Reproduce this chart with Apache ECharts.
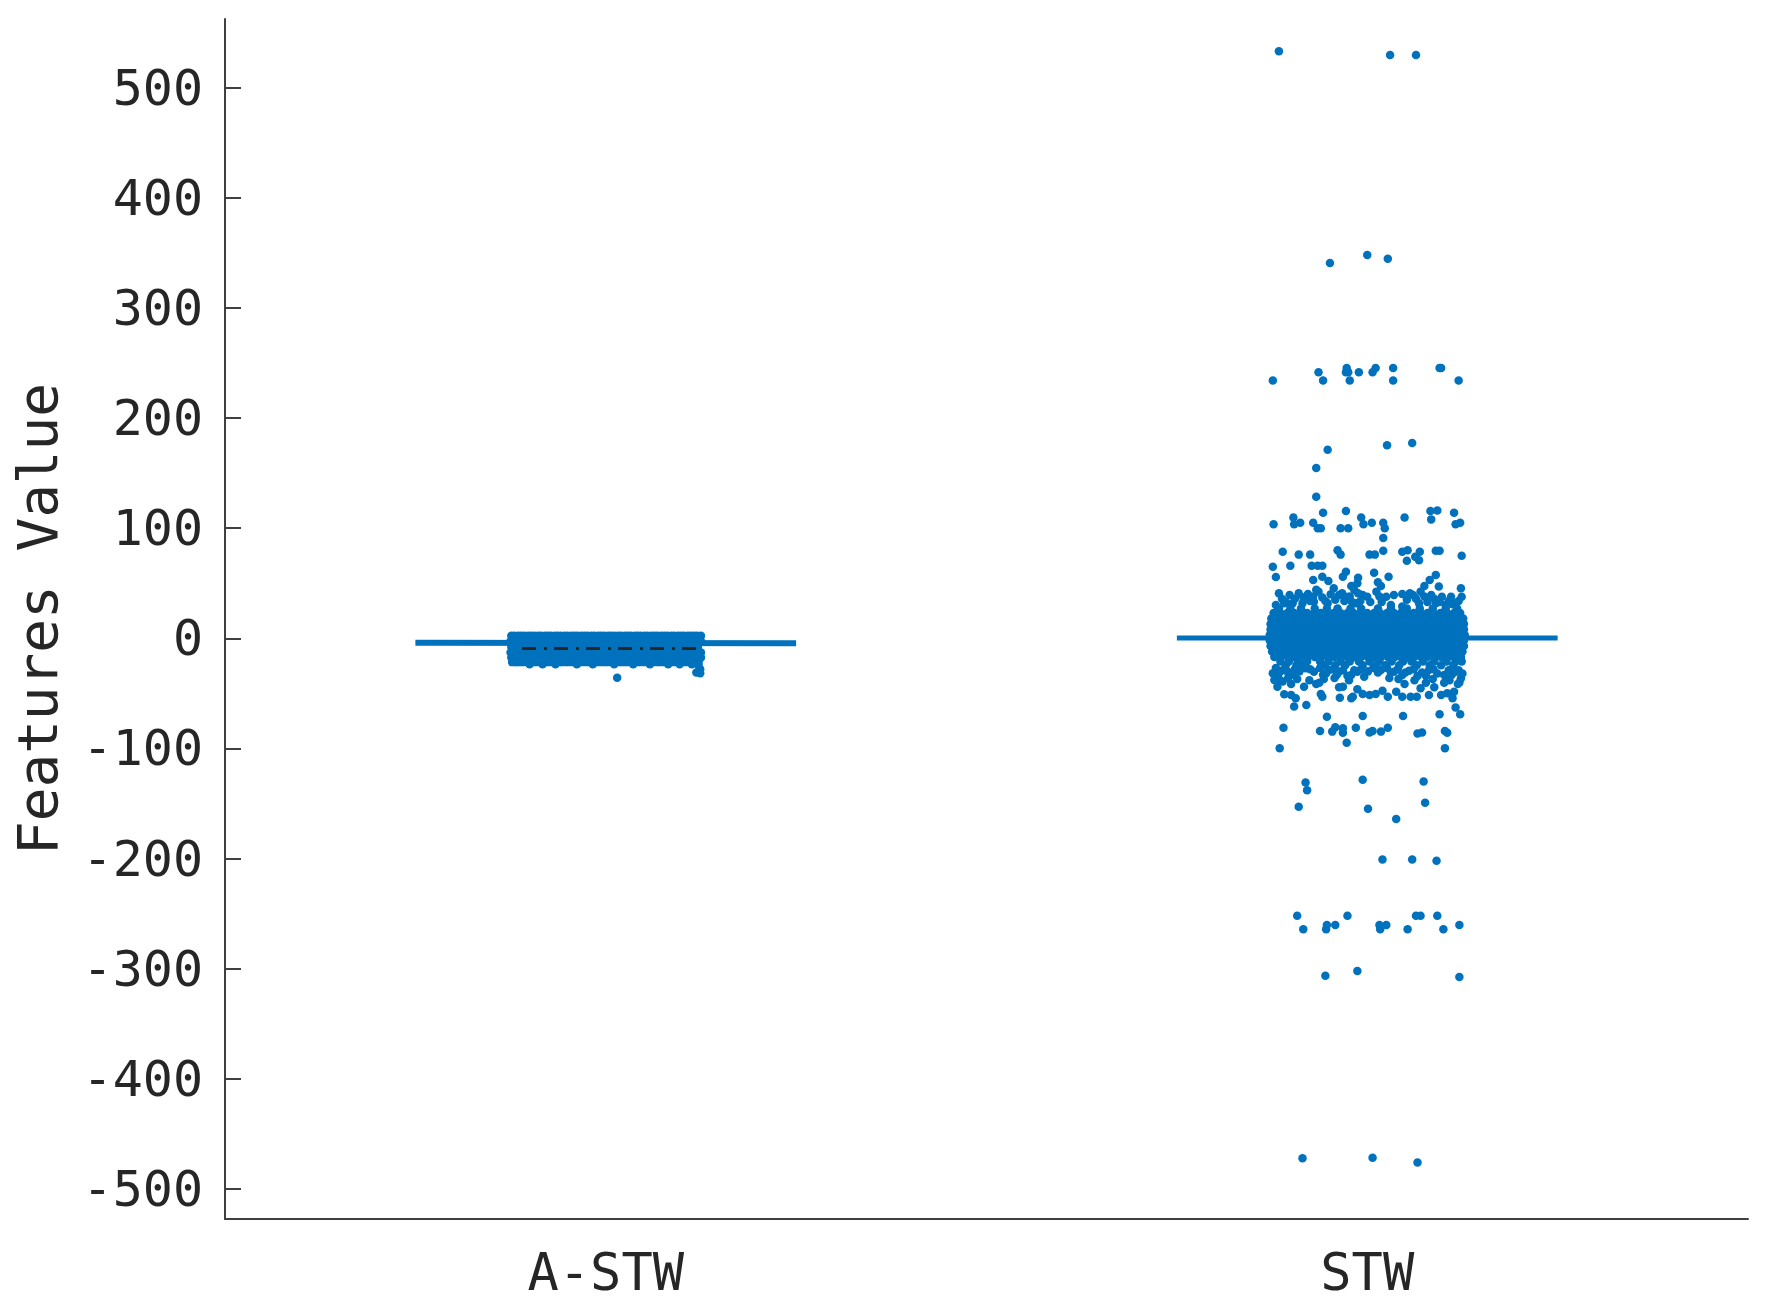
<!DOCTYPE html>
<html>
<head>
<meta charset="utf-8">
<title>Features Value</title>
<style>
html, body { margin: 0; padding: 0; background: #fff; }
#chart { width: 1772px; height: 1307px; }
</style>
<script src="https://cdn.jsdelivr.net/npm/echarts@6/dist/echarts.min.js"></script>
</head>
<body>
<div id="chart"></div>
<script>
const categories = ['A-STW', 'STW'];
const yTicks = [-500, -400, -300, -200, -100, 0, 100, 200, 300, 400, 500];
const yMin = -527.2;
const yMax = 562.3;

// mean lines and the dash-dot line, as [position, value]
const astwMean = [[0.75, -3.9], [1.25, -4.5]];
const stwMean = [[1.75, 0.4], [2.25, 0.2]];
const astwDashed = [[0.89, -9.2], [1.126, -9.2]];

// A-STW band, one row per value: [value, jitter positions]
const astwRows = [
    [2.4, [0.876, 0.880, 0.885, 0.889, 0.893, 0.898, 0.902, 0.906, 0.911, 0.915, 0.920, 0.924, 0.928, 0.933, 0.937, 0.941, 0.946, 0.950, 0.955, 0.959, 0.963, 0.968, 0.972, 0.976, 0.981, 0.985, 0.990, 0.994, 0.998, 1.003, 1.007, 1.011, 1.016, 1.020, 1.025, 1.029, 1.033, 1.038, 1.042, 1.046, 1.051, 1.055, 1.060, 1.064, 1.068, 1.073, 1.077, 1.081, 1.086, 1.090, 1.095, 1.099, 1.103, 1.108, 1.112, 1.116, 1.120, 1.125]],
    [-2.6, [0.875, 0.881, 0.890, 0.899, 0.907, 0.916, 0.925, 0.934, 0.942, 0.951, 0.960, 0.969, 0.977, 0.986, 0.995, 1.004, 1.012, 1.021, 1.030, 1.039, 1.047, 1.056, 1.065, 1.074, 1.082, 1.091, 1.100, 1.109, 1.117, 1.125]],
    [-7.8, [0.876, 0.885, 0.894, 0.903, 0.911, 0.920, 0.929, 0.938, 0.946, 0.955, 0.964, 0.973, 0.981, 0.990, 0.999, 1.008, 1.016, 1.025, 1.034, 1.043, 1.051, 1.060, 1.069, 1.078, 1.086, 1.095, 1.104, 1.113, 1.121]],
    [-12.8, [0.875, 0.881, 0.890, 0.899, 0.908, 0.916, 0.925, 0.934, 0.943, 0.951, 0.960, 0.969, 0.978, 0.986, 0.995, 1.004, 1.013, 1.021, 1.030, 1.039, 1.048, 1.056, 1.065, 1.074, 1.083, 1.091, 1.100, 1.109, 1.118, 1.125]],
    [-17.4, [0.876, 0.885, 0.894, 0.902, 0.911, 0.920, 0.929, 0.937, 0.946, 0.955, 0.964, 0.972, 0.981, 0.990, 0.999, 1.007, 1.016, 1.025, 1.034, 1.042, 1.051, 1.060, 1.069, 1.077, 1.086, 1.095, 1.104, 1.112, 1.121, 1.125]],
    [-21.6, [0.877, 0.881, 0.884, 0.888, 0.892, 0.897, 0.901, 0.905, 0.909, 0.914, 0.918, 0.922, 0.926, 0.931, 0.935, 0.939, 0.943, 0.948, 0.952, 0.957, 0.961, 0.965, 0.969, 0.974, 0.978, 0.982, 0.986, 0.991, 0.995, 0.999, 1.003, 1.008, 1.012, 1.017, 1.021, 1.025, 1.029, 1.034, 1.038, 1.042, 1.046, 1.051, 1.055, 1.059, 1.063, 1.068, 1.072, 1.077, 1.081, 1.085, 1.089, 1.094, 1.098, 1.102, 1.106, 1.111, 1.115, 1.119, 1.122]],
    [-23.6, [0.900, 0.917, 0.934, 0.962, 0.983, 1.011, 1.036, 1.058, 1.082, 1.097, 1.113]]
];
const astwOutliers = [[1.015, -35.8], [1.124, -31.6], [1.119, -31], [1.124, -28], [1.122, -25]];

// STW dense core, same layout as astwRows
const stwRows = [
    [27, [1.884, 1.899, 1.913, 1.931, 1.947, 1.961, 1.978, 1.992, 2.014, 2.031, 2.052, 2.069, 2.086, 2.103, 2.118]],
    [23, [1.877, 1.886, 1.895, 1.904, 1.912, 1.921, 1.930, 1.939, 1.947, 1.956, 1.965, 1.974, 1.982, 1.991, 2.000, 2.009, 2.017, 2.026, 2.035, 2.044, 2.052, 2.061, 2.070, 2.079, 2.087, 2.096, 2.105, 2.114, 2.122]],
    [18, [1.874, 1.882, 1.891, 1.900, 1.908, 1.917, 1.926, 1.935, 1.943, 1.952, 1.961, 1.970, 1.978, 1.987, 1.996, 2.005, 2.013, 2.022, 2.031, 2.040, 2.048, 2.057, 2.066, 2.075, 2.083, 2.092, 2.101, 2.110, 2.118, 2.126]],
    [13, [1.873, 1.878, 1.887, 1.896, 1.904, 1.913, 1.922, 1.931, 1.939, 1.948, 1.957, 1.966, 1.974, 1.983, 1.992, 2.001, 2.009, 2.018, 2.027, 2.036, 2.044, 2.053, 2.062, 2.071, 2.079, 2.088, 2.097, 2.106, 2.114, 2.123, 2.127]],
    [8, [1.873, 1.882, 1.891, 1.899, 1.908, 1.917, 1.926, 1.934, 1.943, 1.952, 1.961, 1.969, 1.978, 1.987, 1.996, 2.004, 2.013, 2.022, 2.031, 2.039, 2.048, 2.057, 2.066, 2.074, 2.083, 2.092, 2.101, 2.109, 2.118, 2.127]],
    [3, [1.872, 1.878, 1.887, 1.895, 1.904, 1.913, 1.922, 1.930, 1.939, 1.948, 1.957, 1.965, 1.974, 1.983, 1.992, 2.000, 2.009, 2.018, 2.027, 2.035, 2.044, 2.053, 2.062, 2.070, 2.079, 2.088, 2.097, 2.105, 2.114, 2.123, 2.128]],
    [-2, [1.872, 1.882, 1.890, 1.899, 1.908, 1.917, 1.925, 1.934, 1.943, 1.952, 1.960, 1.969, 1.978, 1.987, 1.995, 2.004, 2.013, 2.022, 2.030, 2.039, 2.048, 2.057, 2.065, 2.074, 2.083, 2.092, 2.100, 2.109, 2.118, 2.127]],
    [-7, [1.873, 1.878, 1.886, 1.895, 1.904, 1.912, 1.921, 1.930, 1.939, 1.947, 1.956, 1.965, 1.974, 1.982, 1.991, 2.000, 2.009, 2.017, 2.026, 2.035, 2.044, 2.052, 2.061, 2.070, 2.079, 2.087, 2.096, 2.105, 2.114, 2.122, 2.127]],
    [-12, [1.875, 1.882, 1.891, 1.900, 1.908, 1.917, 1.926, 1.935, 1.943, 1.952, 1.961, 1.970, 1.978, 1.987, 1.996, 2.005, 2.013, 2.022, 2.031, 2.040, 2.048, 2.057, 2.066, 2.075, 2.083, 2.092, 2.101, 2.110, 2.118, 2.125]],
    [-17, [1.878, 1.887, 1.896, 1.904, 1.913, 1.922, 1.931, 1.939, 1.948, 1.957, 1.966, 1.974, 1.983, 1.992, 2.001, 2.009, 2.018, 2.027, 2.036, 2.044, 2.053, 2.062, 2.071, 2.079, 2.088, 2.097, 2.106, 2.114, 2.123]],
    [-21, [1.886, 1.897, 1.909, 1.921, 1.938, 1.949, 1.965, 1.977, 1.989, 2.003, 2.016, 2.032, 2.047, 2.058, 2.073, 2.088, 2.104, 2.116, 2.124]],
    [-24.5, [1.893, 1.907, 1.916, 1.944, 1.958, 1.971, 1.994, 2.011, 2.024, 2.042, 2.065, 2.082, 2.097, 2.113]]
];

// fringe just outside the core, estimated where the dots overlap
const stwFringe = [
    [1.888, 36], [1.893, 33], [1.905, 36], [1.916, 37], [1.925, 34], [1.929, 38], [1.941, 37], [1.945, 34], [1.952, 40], [1.958, 35],
    [1.967, 41], [1.970, 34], [1.977, 38], [1.980, 33], [1.988, 41], [1.991, 34], [2.004, 33], [2.016, 38], [2.019, 33], [2.052, 35],
    [2.056, 41], [2.064, 36], [2.075, 38], [2.079, 33], [2.088, 36], [2.095, 33], [2.107, 34], [2.112, 31], [2.120, 34],
    [1.880, -27], [1.889, -29], [1.895, -30], [1.905, -28], [1.911, -30], [1.925, -28], [1.938, -27], [1.942, -33], [1.955, -28],
    [1.960, -33], [1.968, -29], [1.974, -34], [1.983, -29], [1.992, -28], [2.001, -30], [2.008, -27], [2.014, -31], [2.026, -27],
    [2.031, -31], [2.040, -28], [2.050, -31], [2.061, -28], [2.072, -31], [2.077, -34], [2.087, -28], [2.092, -32], [2.107, -29],
    [2.111, -33], [2.120, -29], [2.125, -32], [1.884, -37], [1.896, -36], [1.908, -37], [1.924, -38], [1.943, -37], [1.957, -36],
    [1.976, -38], [2.029, -36], [2.041, -37], [2.062, -38], [2.086, -37], [2.108, -38], [2.121, -40]
];

// STW points read one by one around the core
const stwUpper = [
    [1.884, 533], [2.030, 529.6], [2.064, 529.6],
    [1.951, 340.8], [2.000, 348], [2.027, 344.7],
    [1.936, 241.5], [1.973, 245.4], [1.972, 241.5], [1.975, 241.5], [1.942, 234], [1.977, 234], [1.989, 241.5],
    [2.007, 241.5], [2.011, 245.4], [2.034, 245.4], [2.034, 234], [2.095, 245.4], [2.097, 245.4], [2.120, 234], [1.876, 234],
    [1.948, 171.3], [2.026, 175.2], [2.059, 177.4], [1.933, 154.7],
    [1.933, 128.6], [1.942, 114], [1.972, 115.6], [1.877, 103.5], [1.903, 109.6], [1.904, 103.5], [1.912, 105], [1.929, 105],
    [1.935, 100], [1.939, 100], [1.965, 100], [1.975, 100], [1.992, 109.6], [1.995, 103.5], [2.006, 105], [2.021, 105],
    [2.023, 100], [2.049, 109.6], [2.083, 115.6], [2.092, 116], [2.084, 108], [2.114, 114], [2.116, 103.5], [2.122, 105],
    [2.021, 91], [1.889, 78.7], [1.910, 76], [1.925, 76], [1.961, 80], [1.965, 76], [2.003, 76], [2.010, 76], [2.021, 79.6],
    [2.046, 78.7], [2.053, 80], [2.052, 70.5], [2.063, 74], [2.069, 78.7], [2.068, 71], [2.090, 79.6], [2.095, 79.6], [2.124, 75],
    [1.876, 65], [1.899, 66], [1.927, 66], [1.935, 66], [1.941, 66], [1.880, 55.7], [1.929, 53], [1.941, 56], [1.949, 52],
    [1.968, 56], [1.972, 60.5], [2.009, 59.6], [1.988, 55], [1.987, 50], [2.014, 51], [2.028, 56], [2.090, 57.5], [2.082, 53],
    [2.075, 47.5], [2.094, 47], [2.123, 45.4], [2.018, 47.5], [1.979, 47.5], [1.933, 44],
    [1.884, 40.9], [1.898, 39.3], [1.910, 40.9], [1.922, 40.3], [1.936, 42.4], [1.956, 45.4], [1.963, 39.3], [1.972, 37.8],
    [1.983, 43.9], [1.994, 39.3], [2.000, 37.8], [2.012, 42.4], [2.025, 37.8], [2.035, 39.3], [2.046, 40.3], [2.060, 39.3],
    [2.070, 42.4], [2.084, 39.3], [2.098, 37.8], [2.110, 37.8], [2.124, 37.8],
    [1.880, 30.3], [1.891, 31.8], [1.902, 31.8], [1.915, 31.8], [1.930, 33.3], [1.948, 31.8], [1.985, 31.8], [2.031, 30.3],
    [2.046, 28.8], [2.068, 31.8], [2.090, 31.8], [2.103, 30.3], [2.116, 31.8]
];
const stwLower = [
    [1.876, -31.8], [1.884, -31.8], [1.878, -37.8], [1.882, -43.9], [1.889, -39.3], [1.902, -33.3], [1.900, -41.5],
    [1.891, -50.8], [1.900, -51.5], [1.906, -54.5], [1.917, -43.9], [1.933, -41.5], [1.937, -40.3], [1.939, -50.5], [1.941, -53],
    [1.919, -27.2], [1.930, -30.3], [1.946, -31.8], [1.950, -28.8], [1.963, -30.3], [1.979, -33.3], [1.987, -30.3], [1.996, -34.8],
    [2.018, -28.8], [2.035, -30.3], [2.046, -33.3], [2.055, -29.4], [2.066, -34.2], [2.081, -28.8], [2.077, -40.3], [2.101, -33.3],
    [2.116, -30.3], [2.123, -36.3], [2.101, -40.3], [2.119, -41.5], [2.049, -41.5], [1.963, -44.5], [1.968, -43.9],
    [1.987, -46.3], [1.981, -53], [1.979, -54.5], [1.994, -50.5], [2.003, -51.5], [2.011, -50.5], [2.020, -47.5], [2.027, -53],
    [2.038, -48.4], [2.046, -53], [2.057, -53], [2.065, -53], [2.070, -45.4], [2.081, -51.5], [2.088, -44.5], [2.097, -51.5],
    [2.105, -49.9], [2.114, -48.4], [2.112, -54.5], [1.964, -53.9],
    [1.904, -62], [1.920, -60.5], [2.116, -62.7], [2.122, -69], [1.947, -71.1], [1.994, -70.5], [2.047, -70.5], [2.095, -69],
    [1.890, -81.1], [1.938, -84.1], [1.954, -84.7], [1.958, -80.8], [1.968, -81.7], [1.968, -85.7], [1.985, -81.1], [2.003, -85.4],
    [2.007, -84.1], [2.018, -84.7], [2.027, -81.1], [2.066, -86.3], [2.072, -85.4], [2.102, -84.1], [2.105, -85.7],
    [1.885, -99.9], [1.973, -94.7], [2.102, -99.9],
    [1.919, -131], [1.921, -138], [1.994, -128.4], [2.074, -129.9], [1.910, -152.9], [2.001, -154.7], [2.038, -164], [2.076, -149.2],
    [2.020, -200.7], [2.059, -200.7], [2.091, -201.9],
    [1.908, -251.8], [1.916, -264.2], [1.947, -260.3], [1.946, -264.2], [1.958, -260.3], [1.974, -251.8], [2.016, -260.3], [2.017, -264.2],
    [2.025, -260.3], [2.053, -264.2], [2.064, -251.8], [2.070, -251.8], [2.092, -251.8], [2.100, -264.2], [2.121, -260.3],
    [1.945, -306.3], [1.987, -302], [2.121, -307.5],
    [1.915, -472], [2.007, -471.6], [2.066, -476]
];

const blue = '#0072BD';
const ink = '#262626';
const axisColor = '#404040';
const font = '"DejaVu Sans Mono"';

const expandRows = rows => rows.flatMap(([value, xs]) => xs.map(x => [x, value]));

const lineSeries = (data, color, width, type) => ({
    type: 'line',
    xAxisIndex: 1,
    data,
    showSymbol: false,
    silent: true,
    lineStyle: { color, width, type, cap: 'butt' }
});

const scatterSeries = data => ({
    type: 'scatter',
    xAxisIndex: 1,
    data,
    symbolSize: 8.5,
    silent: true,
    itemStyle: { color: blue, opacity: 1 }
});

const chart = echarts.init(document.getElementById('chart'), null, { renderer: 'canvas' });
chart.setOption({
    animation: false,
    backgroundColor: '#fff',
    grid: { left: 225, right: 24, top: 19, height: 1200, outerBoundsMode: 'none' },
    xAxis: [
        {
            type: 'category',
            data: categories,
            axisLine: { onZero: false, lineStyle: { color: axisColor, width: 2 } },
            axisTick: { inside: true, length: 16, alignWithLabel: true, lineStyle: { color: axisColor, width: 2 } },
            axisLabel: { color: ink, fontFamily: font, fontSize: 52, margin: 31 },
            splitLine: { show: false }
        },
        { type: 'value', min: 0.5, max: 2.5, show: false, splitLine: { show: false } }
    ],
    yAxis: {
        type: 'value',
        min: yMin,
        max: yMax,
        name: 'Features Value',
        nameLocation: 'middle',
        nameGap: 155,
        nameTextStyle: { color: ink, fontFamily: font, fontSize: 56 },
        axisLine: { show: true, onZero: false, lineStyle: { color: axisColor, width: 2 } },
        axisTick: { show: true, inside: true, length: 16, customValues: yTicks, lineStyle: { color: axisColor, width: 2 } },
        axisLabel: { color: ink, fontFamily: font, fontSize: 50, margin: 22, verticalAlign: 'top', padding: [-21, 0, 0, 0], customValues: yTicks },
        splitLine: { show: false }
    },
    series: [
        lineSeries(astwMean, blue, 6, 'solid'),
        lineSeries(stwMean, blue, 5, 'solid'),
        scatterSeries(expandRows(astwRows).concat(astwOutliers)),
        scatterSeries(expandRows(stwRows).concat(stwFringe, stwUpper, stwLower)),
        lineSeries(astwDashed, ink, 3, [14, 8, 3, 7])
    ]
});
</script>
</body>
</html>
